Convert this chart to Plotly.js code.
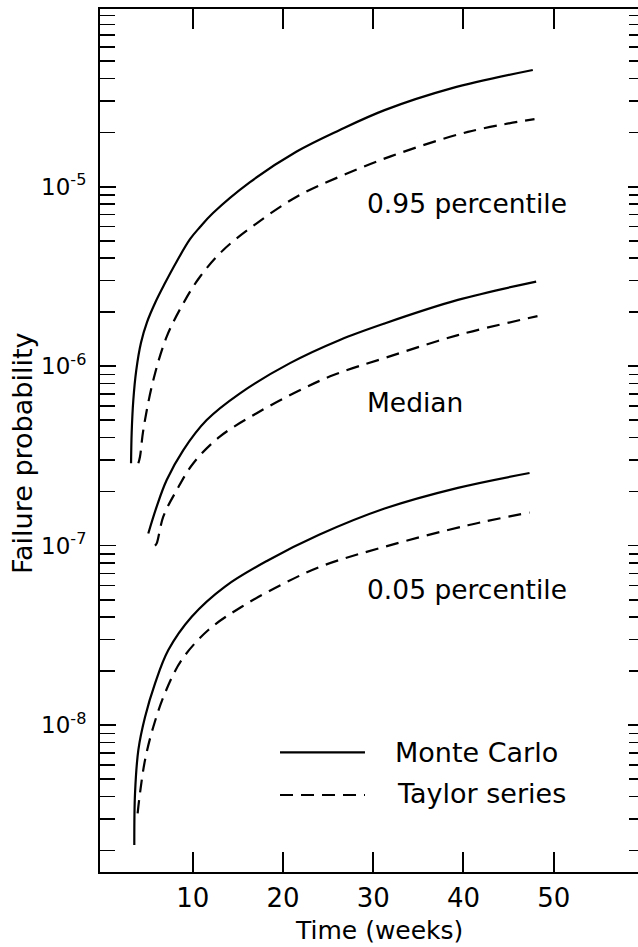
<!DOCTYPE html>
<html>
<head>
<meta charset="utf-8">
<script src="https://cdn.plot.ly/plotly-3.0.1.min.js"></script>
<style>
html,body{margin:0;padding:0;overflow:hidden;background:#fff;}
#chart{width:644px;height:947px;}
</style>
</head>
<body>
<div id="chart"></div>
<script>
// Time (weeks) and failure probability
const mc95_t  = [3.17, 3.24, 3.42, 3.75, 4.27, 4.94, 5.83, 6.82, 8.23, 9.7, 10.81, 12.25, 16.35, 21.52, 26.3, 31.26, 38.64, 47.68];
const mc95_p  = [2.88e-7, 4.27e-7, 6.46e-7, 9.5e-7, 1.35e-6, 1.76e-6, 2.25e-6, 2.83e-6, 3.83e-6, 5.1e-6, 5.96e-6, 7.13e-6, 1.06e-5, 1.57e-5, 2.07e-5, 2.67e-5, 3.53e-5, 4.47e-5];

const ts95_t  = [3.98, 4.16, 4.53, 5.64, 7.12, 8.96, 10.81, 13.39, 17.09, 21.52, 26.32, 32.0, 40.49, 47.87];
const ts95_p  = [2.88e-7, 3.13e-7, 4.42e-7, 8.38e-7, 1.46e-6, 2.24e-6, 3.15e-6, 4.44e-6, 6.25e-6, 8.79e-6, 1.14e-5, 1.48e-5, 2.02e-5, 2.38e-5];

const mcMed_t = [5.08, 6.01, 7.12, 8.96, 11.55, 15.24, 20.78, 26.3, 31.26, 39.38, 48.05];
const mcMed_p = [1.17e-7, 1.65e-7, 2.32e-7, 3.41e-7, 5.01e-7, 7.06e-7, 1.04e-6, 1.4e-6, 1.73e-6, 2.34e-6, 2.96e-6];

const tsMed_t = [5.82, 6.01, 6.74, 8.23, 10.07, 13.0, 17.09, 21.52, 25.6, 31.26, 39.38, 48.2];
const tsMed_p = [1.0e-7, 1.03e-7, 1.45e-7, 2.04e-7, 2.88e-7, 4.05e-7, 5.47e-7, 7.2e-7, 8.93e-7, 1.11e-6, 1.49e-6, 1.9e-6];

const mc05_t  = [3.53, 3.61, 3.98, 4.72, 5.83, 7.3, 9.89, 13.58, 18.37, 24.0, 31.26, 39.38, 47.32];
const mc05_p  = [2.15e-9, 4.17e-9, 7.28e-9, 1.11e-8, 1.71e-8, 2.62e-8, 4.02e-8, 5.92e-8, 8.3e-8, 1.15e-7, 1.61e-7, 2.1e-7, 2.54e-7];

const ts05_t  = [3.9, 4.16, 4.72, 5.64, 6.93, 8.78, 11.73, 15.43, 20.0, 24.32, 31.26, 40.49, 47.32];
const ts05_p  = [3.23e-9, 4.18e-9, 6.4e-9, 9.8e-9, 1.51e-8, 2.31e-8, 3.39e-8, 4.57e-8, 6.12e-8, 7.7e-8, 9.86e-8, 1.3e-7, 1.53e-7];

// Tick labels
const xTickVals = [10, 20, 30, 40, 50];
const xTickText = ['10', '20', '30', '40', '50'];
const yDecades = [-9, -8, -7, -6, -5, -4];
const yMajorVals = [1e-8, 1e-7, 1e-6, 1e-5];
const yMajorText = ['10<sup>-8</sup>', '10<sup>-7</sup>', '10<sup>-6</sup>', '10<sup>-5</sup>'];
const yMinorMantissas = [2, 3, 4, 5, 6, 7, 8, 9];

// Text labels
const curveLabels = ['0.95 percentile', 'Median', '0.05 percentile'];
const legendLabels = ['Monte Carlo', 'Taylor series'];
const xTitle = 'Time (weeks)';
const yTitle = 'Failure probability';

const yMinorVals = [];
yDecades.forEach(d => yMinorMantissas.forEach(m => yMinorVals.push(m * Math.pow(10, d))));

const FONT = 'DejaVu Sans, sans-serif';
const solid = {color: '#000', width: 2.2, shape: 'spline', smoothing: 1};
const dashed = {color: '#000', width: 2.2, shape: 'spline', smoothing: 1, dash: '13px,8px'};

const traces = [
  {x: mc95_t, y: mc95_p, line: solid},
  {x: ts95_t, y: ts95_p, line: dashed},
  {x: mcMed_t, y: mcMed_p, line: solid},
  {x: tsMed_t, y: tsMed_p, line: dashed},
  {x: mc05_t, y: mc05_p, line: solid},
  {x: ts05_t, y: ts05_p, line: dashed}
].map(t => Object.assign({type: 'scatter', mode: 'lines', showlegend: false, hoverinfo: 'skip'}, t));

const txt = (text, x, y, size, extra) => Object.assign({
  text: text, x: x, y: y, xref: 'paper', yref: 'paper',
  xanchor: 'left', yanchor: 'middle', showarrow: false,
  font: {family: FONT, size: size, color: '#000'}
}, extra || {});

const layout = {
  width: 644, height: 947,
  margin: {l: 100, r: 0, t: 9, b: 75, pad: 0},
  paper_bgcolor: '#fff', plot_bgcolor: '#fff',
  font: {family: FONT, size: 25, color: '#000'},
  showlegend: false,
  xaxis: {
    range: [-0.27, 60], tickvals: xTickVals, ticktext: xTickText,
    ticks: 'inside', ticklen: 20, tickwidth: 2, tickcolor: '#000',
    showline: true, linewidth: 2, linecolor: '#000', mirror: 'ticks',
    showgrid: false, zeroline: false, ticklabelstandoff: 2,
    tickfont: {family: FONT, size: 26, color: '#000'}
  },
  yaxis: {
    type: 'log', range: [-8.818, -4.01], tickvals: yMajorVals, ticktext: yMajorText,
    ticks: 'inside', ticklen: 16, tickwidth: 1.6, tickcolor: '#000',
    minor: {tickvals: yMinorVals, ticks: 'inside', ticklen: 15, tickwidth: 1.6, tickcolor: '#000', showgrid: false},
    showline: true, linewidth: 2, linecolor: '#000', mirror: 'ticks',
    showgrid: false, zeroline: false, ticklabelstandoff: 7,
    tickfont: {family: FONT, size: 23, color: '#000'}
  },
  annotations: [
    txt(curveLabels[0], 0.487, 0.7752, 26.5),
    txt(curveLabels[1], 0.487, 0.5446, 26.5),
    txt(curveLabels[2], 0.487, 0.3268, 26.5),
    txt(legendLabels[0], 0.5386, 0.139, 27),
    txt(legendLabels[1], 0.5423, 0.0915, 27),
    txt(xTitle, 0.5125, -0.0675, 25, {xanchor: 'center'}),
    txt(yTitle, -0.1434, 0.4855, 27, {xanchor: 'center', textangle: -90})
  ],
  shapes: [
    {type: 'line', xref: 'paper', yref: 'paper', x0: 0.3309, x1: 0.4871, y0: 0.1385, y1: 0.1385,
     line: {color: '#000', width: 2.2}},
    {type: 'line', xref: 'paper', yref: 'paper', x0: 0.3309, x1: 0.4871, y0: 0.0892, y1: 0.0892,
     line: {color: '#000', width: 2.2, dash: '13px,8px'}}
  ]
};

Plotly.newPlot('chart', traces, layout, {displayModeBar: false, staticPlot: true});
</script>
</body>
</html>
